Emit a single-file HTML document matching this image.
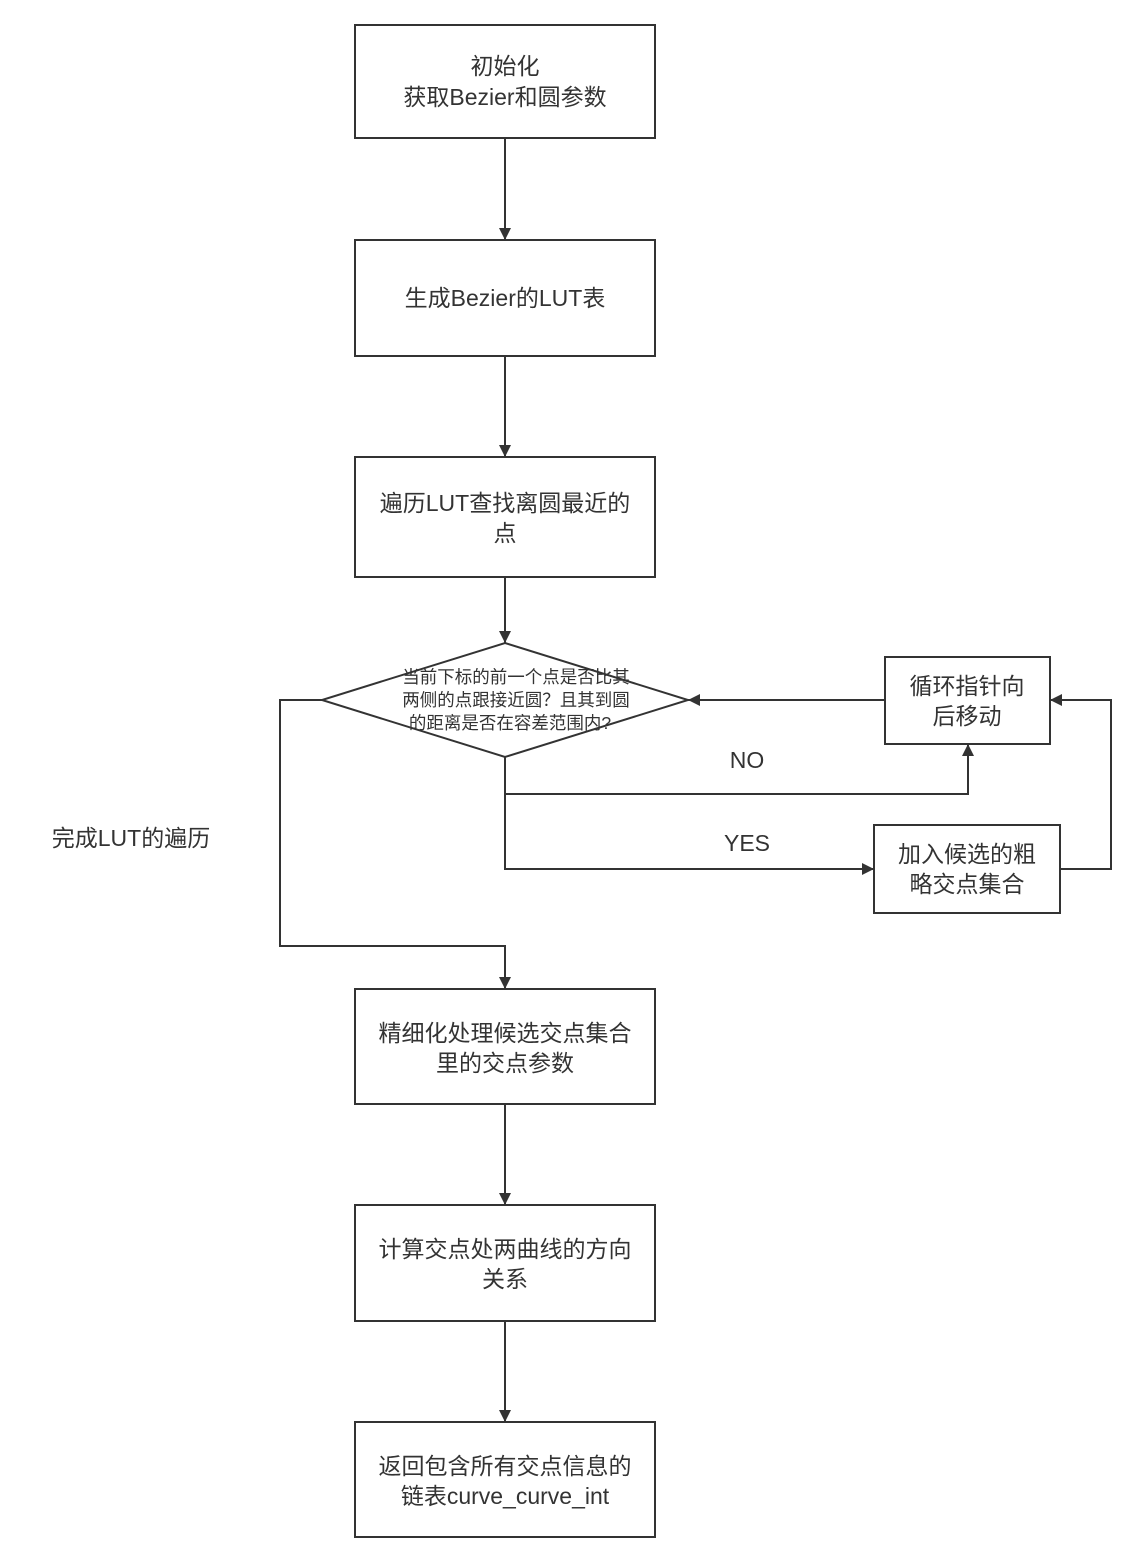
<!DOCTYPE html>
<html><head><meta charset="utf-8"><style>
html,body{margin:0;padding:0;background:#fff;}
svg text{font-family:"Liberation Sans","Noto Sans CJK SC",sans-serif;fill:#333;}
</style></head><body>
<svg width="1144" height="1546" viewBox="0 0 1144 1546" xmlns="http://www.w3.org/2000/svg">
<defs><marker id="a" viewBox="0 0 12 12" refX="12" refY="6" markerWidth="12" markerHeight="12" markerUnits="userSpaceOnUse" orient="auto"><path d="M0,0 L12,6 L0,12 Z" fill="#333"/></marker></defs>
<g fill="none" stroke="#333" stroke-width="2">
<rect x="355" y="25" width="300" height="113"/>
<rect x="355" y="240" width="300" height="116"/>
<rect x="355" y="457" width="300" height="120"/>
<polygon points="505,643 688,700 505,757 322,700"/>
<rect x="885" y="657" width="165" height="87"/>
<rect x="874" y="825" width="186" height="88"/>
<rect x="355" y="989" width="300" height="115"/>
<rect x="355" y="1205" width="300" height="116"/>
<rect x="355" y="1422" width="300" height="115"/>
<path d="M505,138 V240" marker-end="url(#a)"/>
<path d="M505,356 V457" marker-end="url(#a)"/>
<path d="M505,577 V643" marker-end="url(#a)"/>
<path d="M322,700 H280 V946 H505 V989" marker-end="url(#a)"/>
<path d="M505,757 V794 H968 V744" marker-end="url(#a)"/>
<path d="M505,794 V869 H874" marker-end="url(#a)"/>
<path d="M1060,869 H1111 V700 H1050" marker-end="url(#a)"/>
<path d="M885,700 H688" marker-end="url(#a)"/>
<path d="M505,1104 V1205" marker-end="url(#a)"/>
<path d="M505,1321 V1422" marker-end="url(#a)"/>
</g>
<g font-size="23" text-anchor="middle">
<text x="505" y="74">初始化</text>
<text x="505" y="105">获取Bezier和圆参数</text>
<text x="505" y="306">生成Bezier的LUT表</text>
<text x="505" y="511">遍历LUT查找离圆最近的</text>
<text x="505" y="541">点</text>
<text x="967" y="694">循环指针向</text>
<text x="967" y="724">后移动</text>
<text x="967" y="862">加入候选的粗</text>
<text x="967" y="892">略交点集合</text>
<text x="505" y="1041">精细化处理候选交点集合</text>
<text x="505" y="1071">里的交点参数</text>
<text x="505" y="1257">计算交点处两曲线的方向</text>
<text x="505" y="1287">关系</text>
<text x="505" y="1474">返回包含所有交点信息的</text>
<text x="505" y="1504">链表curve_curve_int</text>
<text x="747" y="768">NO</text>
<text x="747" y="851">YES</text>
<text x="131" y="846">完成LUT的遍历</text>
</g>
<g font-size="17.5" text-anchor="middle">
<text x="516" y="683">当前下标的前一个点是否比其</text>
<text x="516" y="706">两侧的点跟接近圆？且其到圆</text>
<text x="510" y="729">的距离是否在容差范围内?</text>
</g>
</svg>
</body></html>
